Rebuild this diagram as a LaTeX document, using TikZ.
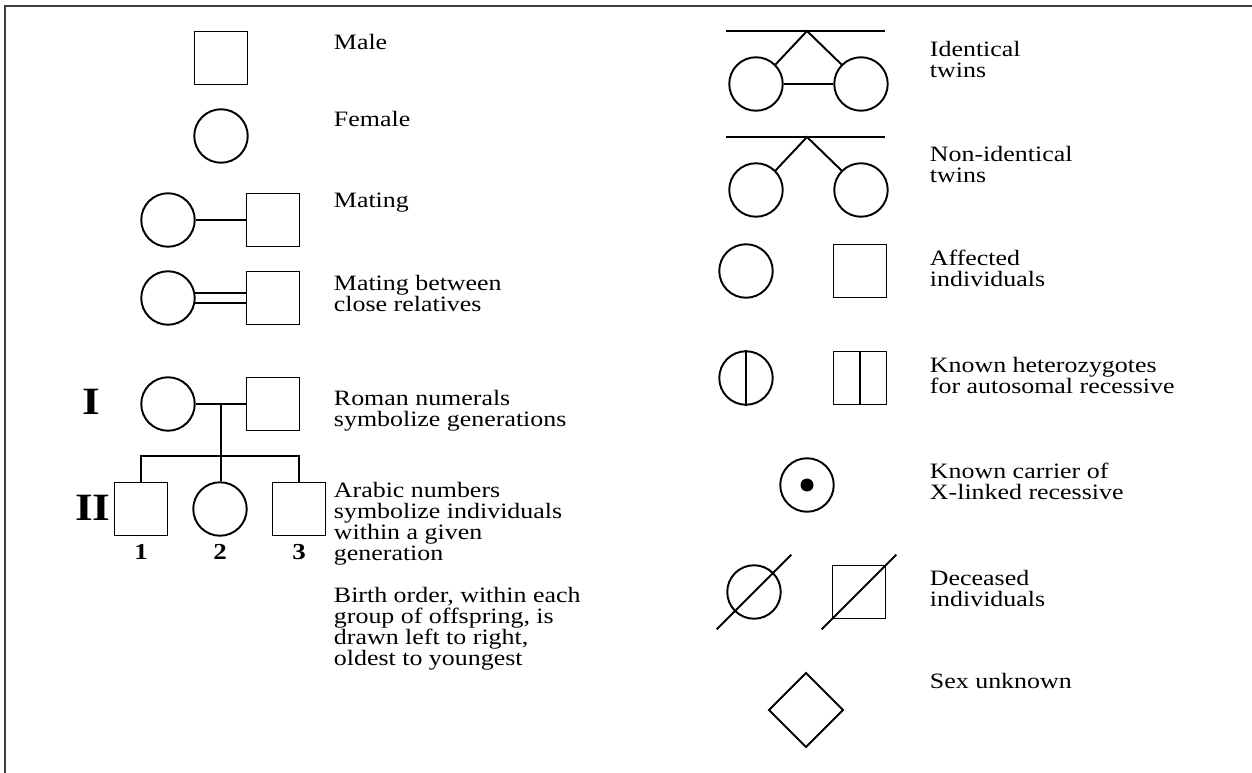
\documentclass[tikz,border=0pt]{standalone}
\usepackage{fontspec}
\setmainfont{Liberation Serif}[FakeStretch=1.18]
\usetikzlibrary{shapes.geometric}

\begin{document}
\begin{tikzpicture}
  [x=0.02cm, y=-0.02cm, line width=1.1pt,
   every node/.style={inner sep=0pt},
   male/.style={draw, rectangle, minimum size=1.06cm},
   female/.style={draw, circle, minimum size=1.07cm},
   unknown/.style={draw, diamond, minimum size=1.5cm},
   legtext/.style={anchor=north west, align=left, font=\fontsize{12.5pt}{12pt}\selectfont},
   gen/.style={font=\fontsize{22pt}{22pt}\selectfont\bfseries},
   num/.style={font=\fontsize{13pt}{13pt}\selectfont\bfseries}]
  \useasboundingbox (0,0) rectangle (1252,773);
  \coordinate (fbl) at (5,773);
  \coordinate (ftl) at (5,6);
  \coordinate (ftr) at (1252,6);
  \draw[line width=1pt, black!75] (fbl) -- (ftl) -- (ftr);

  \node[male] (m) at (221,58) {};
  \node[female] (f) at (221,136) {};
  \node[female] (mf) at (168,220) {};
  \node[male] (mm) at (273,220) {};
  \draw (mf) -- (mm);
  \node[female] (cf) at (168,298) {};
  \node[male] (cm) at (273,298) {};
  \draw (cf.10) -- (cf.10 -| cm.west);
  \draw (cf.-10) -- (cf.-10 -| cm.west);

  \node[gen] (gI) at (91,402) {I};
  \node[female] (If) at (168,404) {};
  \node[male] (Im) at (273,404) {};
  \draw (If) -- coordinate (Imid) (Im);
  \coordinate (sib) at (220,456);
  \node[male] (c1) at (141,509) {};
  \node[female] (c2) at (220,509) {};
  \node[male] (c3) at (299,509) {};
  \draw (Imid) -- (Imid |- c2.north);
  \draw (c1.north) |- (sib) -| (c3.north);
  \node[gen] (gII) at (93,508) {II};
  \node[num] (n1) at (141,552) {1};
  \node[num] (n2) at (220,552) {2};
  \node[num] (n3) at (299,552) {3};

  \node[legtext] (tm) at (333,33) {Male};
  \node[legtext] (tf) at (333,110) {Female};
  \node[legtext] (tmt) at (333,192) {Mating};
  \node[legtext] (tcr) at (333,274) {Mating between\\close relatives};
  \node[legtext] (trn) at (333,389) {Roman numerals\\symbolize generations};
  \node[legtext] (tan) at (333,481) {Arabic numbers\\symbolize individuals\\within a given\\generation};
  \node[legtext] (tbo) at (333,586) {Birth order, within each\\group of offspring, is\\drawn left to right,\\oldest to youngest};

  \coordinate (ibl) at (726,31);
  \coordinate (ibr) at (885,31);
  \coordinate (ia) at (807,31);
  \draw (ibl) -- (ibr);
  \node[female] (it1) at (756,84) {};
  \node[female] (it2) at (861,84) {};
  \draw (it1.45) -- (ia) -- (it2.135);
  \draw (it1) -- (it2);

  \coordinate (nbl) at (726,137);
  \coordinate (nbr) at (885,137);
  \coordinate (na) at (807,137);
  \draw (nbl) -- (nbr);
  \node[female] (nt1) at (756,190) {};
  \node[female] (nt2) at (861,190) {};
  \draw (nt1.45) -- (na) -- (nt2.135);

  \node[female] (af) at (746,271) {};
  \node[male] (am) at (860,271) {};

  \node[female] (hf) at (746,378) {};
  \node[male] (hm) at (860,378) {};
  \draw (hf.north) -- (hf.south);
  \draw (hm.north) -- (hm.south);

  \node[female] (cr) at (807,485) {};
  \node[circle, fill, minimum size=0.26cm] (dot) at (cr) {};

  \node[female] (df) at (754,592) {};
  \draw[shorten <=-0.5cm, shorten >=-0.5cm] (df.225) -- (df.45);
  \node[male] (dm) at (859,592) {};
  \draw[shorten <=-0.28cm, shorten >=-0.28cm] (dm.south west) -- (dm.north east);

  \node[unknown] (sx) at (806,710) {};

  \node[legtext] (tit) at (929,40) {Identical\\twins};
  \node[legtext] (tnt) at (929,145) {Non-identical\\twins};
  \node[legtext] (taf) at (929,249) {Affected\\individuals};
  \node[legtext] (the) at (929,356) {Known heterozygotes\\for autosomal recessive};
  \node[legtext] (tca) at (929,462) {Known carrier of\\X-linked recessive};
  \node[legtext] (tde) at (929,569) {Deceased\\individuals};
  \node[legtext] (tsx) at (929,672) {Sex unknown};
\end{tikzpicture}
\end{document}
